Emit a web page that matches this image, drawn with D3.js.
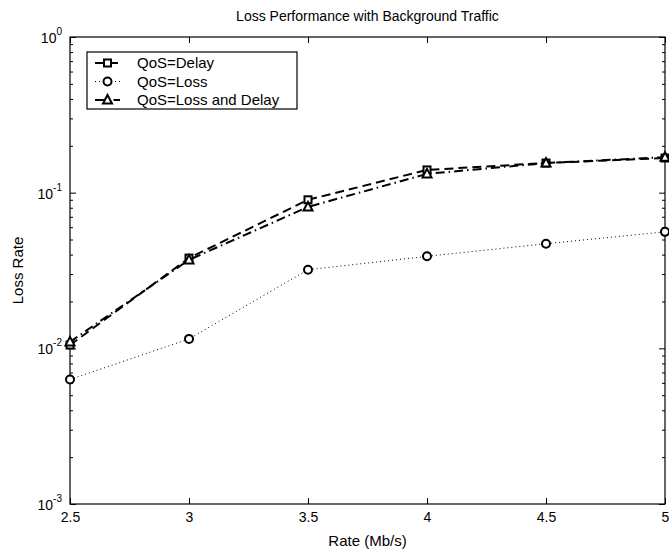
<!DOCTYPE html>
<html>
<head>
<meta charset="utf-8">
<script src="https://cdn.jsdelivr.net/npm/d3@7"></script>
<style>
body { margin: 0; background: #fff; }
text { font-family: "Liberation Sans", Arial, sans-serif; fill: #000; }
</style>
</head>
<body>
<div id="chart"></div>
<script>
var rates        = [2.5, 3, 3.5, 4, 4.5, 5],
    xTicks       = [2.5, 3, 3.5, 4, 4.5, 5],
    yMajor       = [1e-3, 1e-2, 1e-1, 1],
    yExponents   = ['-3', '-2', '-1', '0'],
    qosDelay     = [0.0105, 0.038, 0.090, 0.140, 0.155, 0.167],
    qosLoss      = [0.0063, 0.0115, 0.032, 0.039, 0.047, 0.056],
    qosLossDelay = [0.0110, 0.037, 0.081, 0.132, 0.155, 0.169],
    seriesNames  = ['QoS=Delay', 'QoS=Loss', 'QoS=Loss and Delay'];

var width   = 669,
    height  = 551,
    pLeft   = 70,
    pRight  = 665,
    pTop    = 37,
    pBottom = 504;

var svg = d3.select('#chart').append('svg')
    .attr('width', width)
    .attr('height', height);

var x = d3.scaleLinear().domain([2.5, 5]).range([pLeft, pRight]),
    y = d3.scaleLog().domain([1e-3, 1]).range([pBottom, pTop]);

var yMinor = y.ticks().filter(function(v) {
    return yMajor.indexOf(v) < 0;
});

// frame
svg.append('rect')
    .attr('x', pLeft).attr('y', pTop)
    .attr('width', pRight - pLeft).attr('height', pBottom - pTop)
    .attr('fill', 'none').attr('stroke', '#000').attr('stroke-width', 1.2);

function styleAxis(g) {
    g.select('.domain').remove();
    g.selectAll('line').attr('stroke', '#000');
    g.selectAll('text').style('font-size', '14px');
}

svg.append('g').attr('transform', 'translate(0,' + pBottom + ')')
    .call(d3.axisBottom(x).tickValues(xTicks).tickSize(-6).tickPadding(8)
        .tickFormat(function(d) { return d; }))
    .call(styleAxis);
svg.append('g').attr('transform', 'translate(0,' + pTop + ')')
    .call(d3.axisTop(x).tickValues(xTicks).tickSize(-6).tickFormat(''))
    .call(styleAxis);

[[d3.axisLeft, pLeft], [d3.axisRight, pRight]].forEach(function(a) {
    svg.append('g').attr('transform', 'translate(' + a[1] + ',0)')
        .call(a[0](y).tickValues(yMajor).tickSize(-6).tickFormat(''))
        .call(styleAxis);
    svg.append('g').attr('transform', 'translate(' + a[1] + ',0)')
        .call(a[0](y).tickValues(yMinor).tickSize(-3).tickFormat(''))
        .call(styleAxis);
});

// y tick labels 10^k
var yl = svg.append('g').selectAll('text')
    .data(yMajor)
    .enter().append('text')
    .attr('x', 62)
    .attr('y', function(d) { return y(d) + 6; })
    .attr('text-anchor', 'end')
    .style('font-size', '14px');
yl.append('tspan').text('10');
yl.append('tspan')
    .attr('dy', -8)
    .style('font-size', '10px')
    .text(function(d, i) { return yExponents[i]; });

// title and axis labels
svg.append('text')
    .attr('x', (pLeft + pRight) / 2).attr('y', 21)
    .attr('text-anchor', 'middle')
    .style('font-size', '14px')
    .text('Loss Performance with Background Traffic');
svg.append('text')
    .attr('x', (pLeft + pRight) / 2).attr('y', 546)
    .attr('text-anchor', 'middle')
    .style('font-size', '15px')
    .text('Rate (Mb/s)');
svg.append('text')
    .attr('transform', 'translate(23,' + ((pTop + pBottom) / 2) + ') rotate(-90)')
    .attr('text-anchor', 'middle')
    .style('font-size', '15px')
    .text('Loss Rate');

var styles = [
    { values: qosDelay, dash: '9,5', width: 2, marker: 'square' },
    { values: qosLoss, dash: '1,3', width: 1, marker: 'circle' },
    { values: qosLossDelay, dash: '9,4,1.5,4', width: 2, marker: 'triangle' }
];

function drawMarker(g, type, cx, cy) {
    if (type === 'square') {
        g.append('rect').attr('x', cx - 3.5).attr('y', cy - 3.5)
            .attr('width', 7).attr('height', 7);
    } else if (type === 'circle') {
        g.append('circle').attr('cx', cx).attr('cy', cy).attr('r', 4);
    } else {
        g.append('path').attr('d', 'M' + cx + ',' + (cy - 5) +
            'L' + (cx + 4.5) + ',' + (cy + 3.5) + 'L' + (cx - 4.5) + ',' + (cy + 3.5) + 'Z');
    }
}

var line = d3.line()
    .x(function(d, i) { return x(rates[i]); })
    .y(function(d) { return y(d); });

styles.forEach(function(s) {
    svg.append('path')
        .datum(s.values)
        .attr('d', line)
        .attr('fill', 'none')
        .attr('stroke', '#000')
        .attr('stroke-width', s.width)
        .attr('stroke-dasharray', s.dash);
    var mg = svg.append('g')
        .attr('fill', '#fff').attr('stroke', '#000').attr('stroke-width', 2);
    s.values.forEach(function(v, i) {
        drawMarker(mg, s.marker, x(rates[i]), y(v));
    });
});

// legend
var lg = svg.append('g');
lg.append('rect')
    .attr('x', 87).attr('y', 52).attr('width', 210).attr('height', 57)
    .attr('fill', '#fff').attr('stroke', '#000').attr('stroke-width', 1.2);
styles.forEach(function(s, i) {
    var ly = 63 + i * 18.5;
    lg.append('line')
        .attr('x1', 95).attr('x2', 120).attr('y1', ly).attr('y2', ly)
        .attr('stroke', '#000')
        .attr('stroke-width', s.width)
        .attr('stroke-dasharray', s.dash);
    var mg = lg.append('g')
        .attr('fill', '#fff').attr('stroke', '#000').attr('stroke-width', 2);
    drawMarker(mg, s.marker, 107.5, ly);
    lg.append('text')
        .attr('x', 137).attr('y', ly + 5)
        .style('font-size', '15px')
        .text(seriesNames[i]);
});
</script>
</body>
</html>
